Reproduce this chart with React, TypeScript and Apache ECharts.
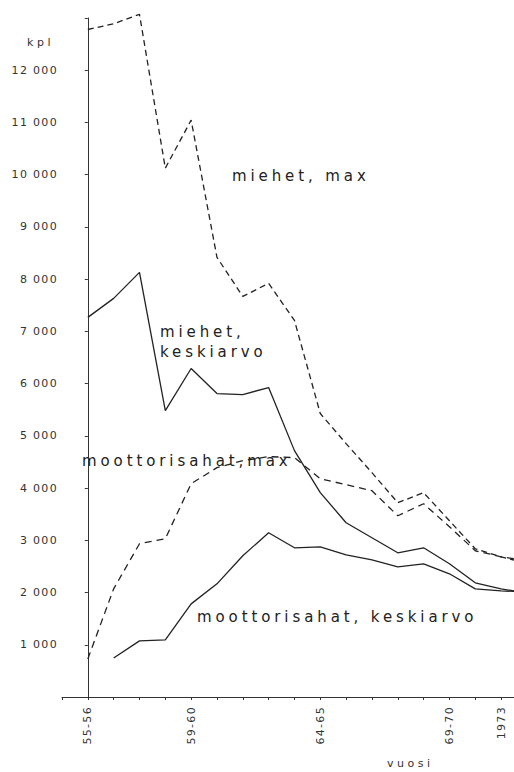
import React, { useEffect, useRef } from "react";
import * as echarts from "echarts";

// x categories (harvest years); last entry continues past the cropped edge
const categories = [
  "55-56", "56-57", "57-58", "58-59", "59-60", "60-61", "61-62", "62-63", "63-64",
  "64-65", "65-66", "66-67", "67-68", "68-69", "69-70", "70-71", "1973", "",
];
const shownLabels = ["55-56", "59-60", "64-65", "69-70", "1973"];

// kpl values
const miehetMax = [12780, 12890, 13070, 10125, 11045, 8418, 7670, 7920, 7210, 5427, 4852, 4295, 3720, 3912, 3375, 2838, 2685, 2560];
const miehetKeskiarvo = [7268, 7632, 8130, 5484, 6290, 5810, 5791, 5925, 4717, 3912, 3337, 3049, 2761, 2857, 2550, 2186, 2071, 1990];
const moottorisahatMax = [729, 2071, 2934, 3030, 4084, 4391, 4525, 4602, 4583, 4180, 4065, 3950, 3470, 3700, 3260, 2800, 2685, 2610];
const moottorisahatKeskiarvo = [null, 748, 1074, 1093, 1783, 2167, 2704, 3145, 2857, 2876, 2723, 2627, 2493, 2550, 2359, 2071, 2033, 2010];

const yMax = 13000;
const yStep = 1000;

const INK = "#222";
const FONT_BIG = "DejaVu Sans, spA";
const FONT_TICK = "DejaVu Sans, spB";
const FONT_NAME = "DejaVu Sans, spC";

const css = `
text[style*="spA"] { letter-spacing: 0.26em; }
text[style*="spB"] { letter-spacing: 0.12em; }
text[style*="spC"] { letter-spacing: 0.32em; }
`;

const toPairs = (arr: (number | null)[]) =>
  arr.map((v, i) => [i, v == null ? "-" : v]);

export default function App() {
  const ref = useRef<HTMLDivElement>(null);

  useEffect(() => {
    if (!ref.current) return;
    const chart = echarts.init(ref.current, undefined, { renderer: "svg" });

    const lineBase = {
      type: "line",
      symbol: "none",
      clip: false,
      smooth: false,
      connectNulls: false,
    };

    const bigText = (text: string, x: number, y: number) => ({
      type: "text",
      x,
      y,
      silent: true,
      style: {
        text,
        fill: INK,
        fontSize: 15,
        fontFamily: FONT_BIG,
        align: "left",
        verticalAlign: "middle",
      },
    });

    chart.setOption({
      animation: false,
      backgroundColor: "#ffffff",
      grid: { left: 62, right: 0, top: 18, bottom: 75, containLabel: false },
      xAxis: {
        type: "value",
        min: -1,
        max: 16.5,
        interval: 1,
        axisLine: { show: true, onZero: false, lineStyle: { color: "#333", width: 1 } },
        axisTick: { show: true, length: 3, lineStyle: { color: "#333" } },
        splitLine: { show: false },
        axisLabel: {
          rotate: 90,
          margin: 9,
          fontSize: 11,
          fontFamily: FONT_TICK,
          color: "#333",
          showMinLabel: true,
          showMaxLabel: true,
          formatter: (v: number) => {
            if (!Number.isInteger(v) || v < 0) return "";
            const c = categories[v];
            return c && shownLabels.includes(c) ? c : "";
          },
        },
      },
      yAxis: {
        type: "value",
        min: 0,
        max: yMax,
        interval: yStep,
        axisLine: { show: true, lineStyle: { color: "#333", width: 1 } },
        axisTick: { show: true, length: 3, lineStyle: { color: "#333" } },
        splitLine: { show: false },
        axisLabel: {
          margin: 4,
          fontSize: 11,
          fontFamily: FONT_TICK,
          color: "#333",
          formatter: (v: number) =>
            v <= 0 || v >= yMax ? "" : `${Math.round(v / 1000)} 000`,
        },
      },
      series: [
        {
          ...lineBase,
          name: "miehet, max",
          data: toPairs(miehetMax),
          lineStyle: { color: INK, width: 1.3, type: [6, 4] },
        },
        {
          ...lineBase,
          name: "miehet, keskiarvo",
          data: toPairs(miehetKeskiarvo),
          lineStyle: { color: INK, width: 1.3, type: "solid" },
        },
        {
          ...lineBase,
          name: "moottorisahat, max",
          data: toPairs(moottorisahatMax),
          lineStyle: { color: INK, width: 1.3, type: [7, 5] },
        },
        {
          ...lineBase,
          name: "moottorisahat, keskiarvo",
          data: toPairs(moottorisahatKeskiarvo),
          lineStyle: { color: INK, width: 1.3, type: "solid" },
        },
      ],
      graphic: [
        bigText("miehet, max", 232, 176),
        bigText("miehet,", 160, 332),
        bigText("keskiarvo", 160, 352),
        bigText("moottorisahat,max", 82, 461),
        bigText("moottorisahat, keskiarvo", 197, 617),
        {
          type: "text",
          x: 27,
          y: 42,
          silent: true,
          style: {
            text: "kpl",
            fill: "#333",
            fontSize: 11,
            fontFamily: FONT_NAME,
            align: "left",
            verticalAlign: "middle",
          },
        },
        {
          type: "text",
          x: 387,
          y: 763,
          silent: true,
          style: {
            text: "vuosi",
            fill: "#333",
            fontSize: 11,
            fontFamily: FONT_NAME,
            align: "left",
            verticalAlign: "middle",
          },
        },
      ],
    });

    return () => chart.dispose();
  }, []);

  return (
    <>
      <style>{css}</style>
      <div
        ref={ref}
        style={{
          position: "fixed",
          left: 0,
          top: 0,
          width: 514,
          height: 772,
          background: "#ffffff",
        }}
      />
    </>
  );
}
